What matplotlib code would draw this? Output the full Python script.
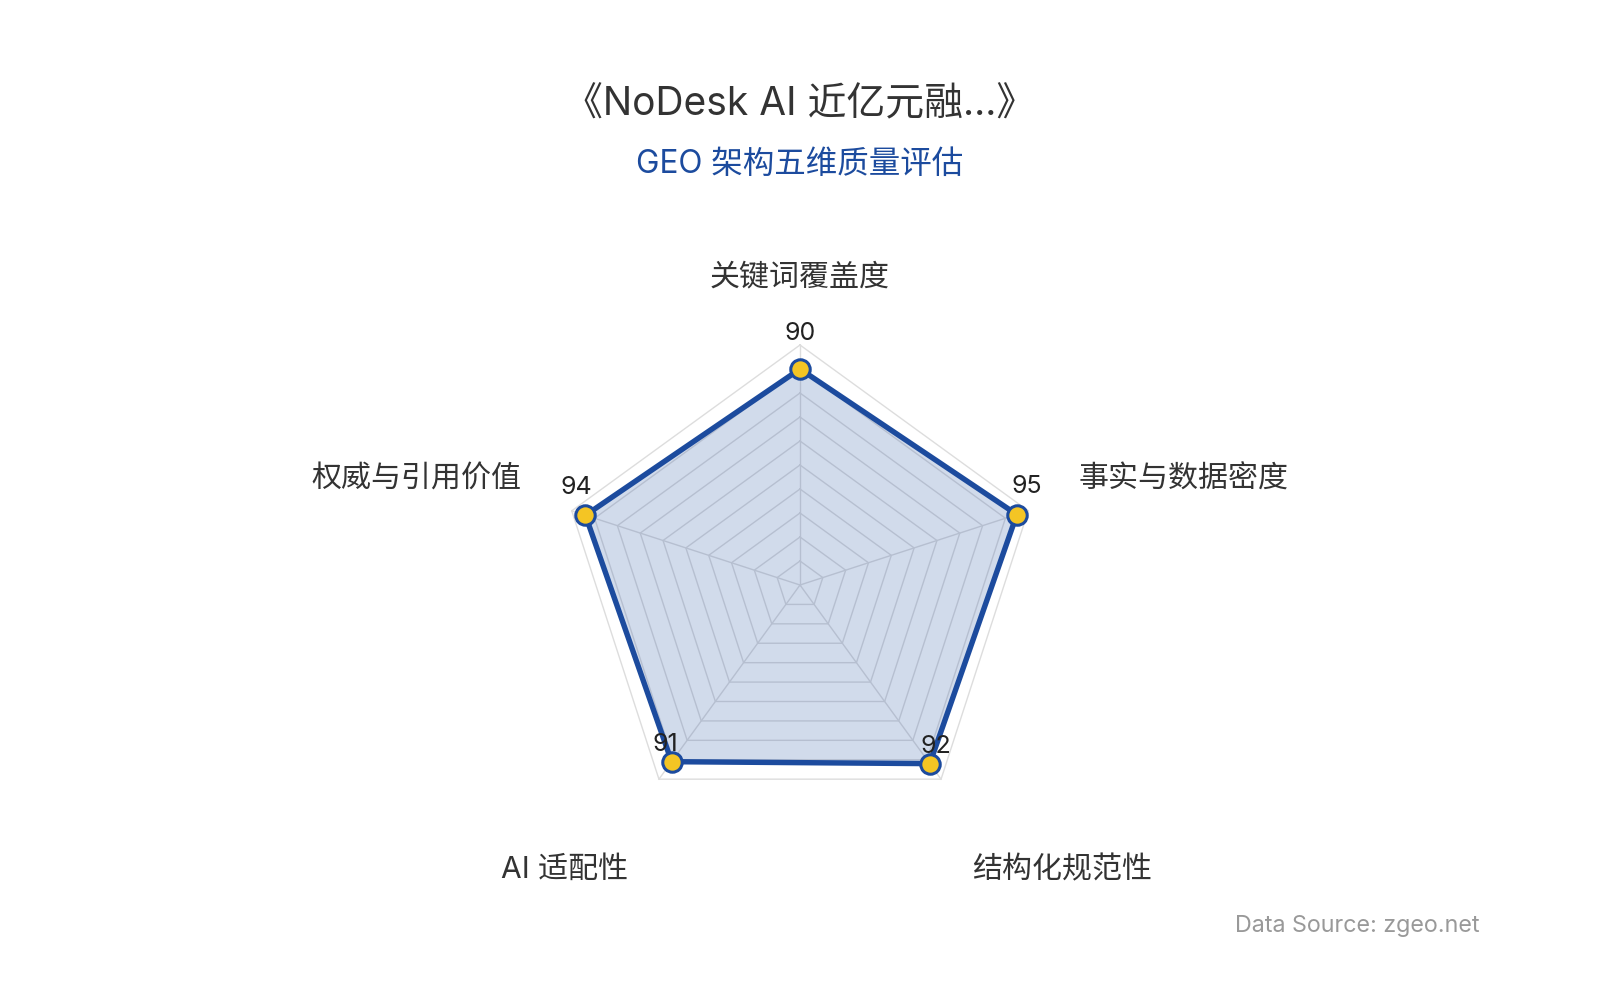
import numpy as np
import matplotlib
matplotlib.use("Agg")
import matplotlib.pyplot as plt

plt.rcParams['font.family'] = ['Inter', 'Noto Sans CJK SC', 'DejaVu Sans']

# chart data
title = "《NoDesk AI 近亿元融...》"
subtitle = "GEO 架构五维质量评估"
source = "Data Source: zgeo.net"
axis_names = ["关键词覆盖度", "事实与数据密度", "结构化规范性", "AI 适配性", "权威与引用价值"]
scores = [90, 95, 92, 91, 94]
max_score = 100
n_rings = 10

BLUE = "#1c4b9e"
GOLD = "#f4c524"
GRID = "#dddddd"

# layout in pixel space (y grows downward)
cx, cy, R = 800, 585, 240

fig = plt.figure(figsize=(16, 10), dpi=100)
ax = fig.add_axes([0, 0, 1, 1])
ax.set_xlim(0, 1600)
ax.set_ylim(1000, 0)
ax.axis('off')

n = len(axis_names)
theta = np.deg2rad(90 - 72 * np.arange(n))
ux, uy = np.cos(theta), -np.sin(theta)


def ring(r):
    xs = cx + r * ux
    ys = cy + r * uy
    return np.append(xs, xs[0]), np.append(ys, ys[0])


# grid
for k in range(1, n_rings + 1):
    xs, ys = ring(R * k / n_rings)
    ax.plot(xs, ys, color=GRID, lw=1, zorder=1)
for i in range(n):
    ax.plot([cx, cx + R * ux[i]], [cy, cy + R * uy[i]], color=GRID, lw=1, zorder=1)

# series
r_vals = R * np.array(scores) / max_score
px = cx + r_vals * ux
py = cy + r_vals * uy
ax.fill(px, py, color=BLUE, alpha=0.2, lw=0, zorder=2)
ax.plot(np.append(px, px[0]), np.append(py, py[0]), color=BLUE, lw=3.9,
        solid_joinstyle='miter', zorder=3)
ax.plot(px, py, 'o', ms=14, mfc=GOLD, mec=BLUE, mew=2.2, zorder=4)

for i, v in enumerate(scores):
    ax.text(px[i] + 10 * ux[i], py[i] + 10 * uy[i] - 25, str(v),
            ha='center', va='center', fontsize=18, color='#222222', zorder=5)

# axis names
d = R * 1.22
for i, name in enumerate(axis_names):
    x = cx + d * ux[i]
    y = cy + d * uy[i]
    if abs(ux[i]) < 1e-6:
        ha = 'center'
    elif ux[i] > 0:
        ha = 'left'
    else:
        ha = 'right'
    if uy[i] <= 0:
        va, y = 'bottom', y - 1
    else:
        va, y = 'top', y + 34
    ax.text(x, y, name, ha=ha, va=va, fontsize=21.6, color='#333333')

fig.text(0.5, 1 - 105 / 1000, title, ha='center', va='center', fontsize=28, color='#333333')
fig.text(0.5, 1 - 164 / 1000, subtitle, ha='center', va='center', fontsize=22.7, color=BLUE)
fig.text(1480 / 1600, 1 - 926 / 1000, source, ha='right', va='center', fontsize=16.8, color='#999999')

fig.savefig("out.png", dpi=100, facecolor='white')
